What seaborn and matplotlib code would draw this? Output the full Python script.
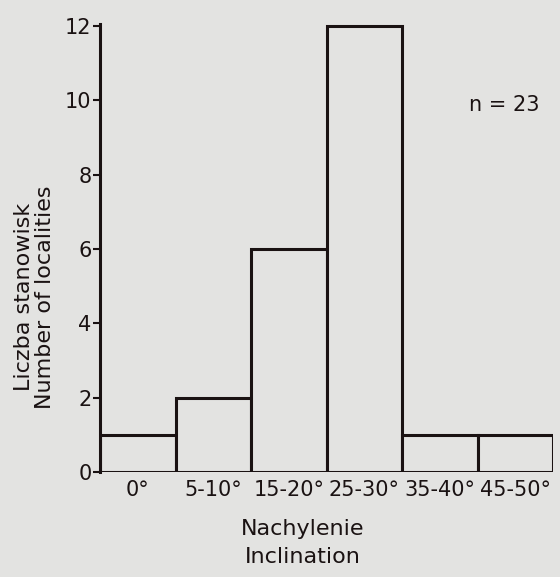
import matplotlib
matplotlib.use("Agg")
import matplotlib.pyplot as plt
import seaborn as sns
import pandas as pd

categories = ["0°", "5-10°", "15-20°", "25-30°", "35-40°", "45-50°"]
counts = [1, 2, 6, 12, 1, 1]
n_total = sum(counts)

BG = "#e3e3e1"
INK = "#1a1212"

sns.set_theme(style="white")
plt.rcParams['font.family'] = ['DejaVu Sans']

df = pd.DataFrame({"slope": categories, "count": counts})

fig = plt.figure(figsize=(5.6, 5.77), dpi=100, facecolor=BG)
ax = fig.add_axes([0.1786, 0.182, 0.809, 0.776])
ax.set_facecolor(BG)

sns.barplot(data=df, x="slope", y="count", color=BG, width=1.0,
            edgecolor=INK, linewidth=2.2, saturation=1, ax=ax)

ax.set_xlim(-0.5, 5.5)
ax.set_ylim(0, 12.05)
ax.set_yticks([0, 2, 4, 6, 8, 10, 12])
ax.tick_params(axis="y", left=True, direction="out", length=5, width=1.5,
               colors=INK, labelsize=15, pad=1)
ax.tick_params(axis="x", bottom=False, length=0, labelsize=15, pad=6, colors=INK)

for s in ["top", "right", "bottom"]:
    ax.spines[s].set_visible(False)
ax.spines["left"].set_linewidth(2.2)
ax.spines["left"].set_color(INK)

ax.set_xlabel("Nachylenie\nInclination", fontsize=16, color=INK, linespacing=1.5)
ax.xaxis.set_label_coords(0.448, -0.105)
ax.set_ylabel("Liczba stanowisk\nNumber of localities", fontsize=16,
              color=INK, linespacing=1.05)
ax.yaxis.set_label_coords(-0.1, 0.39)

ax.text(0.892, 0.82, f"n = {n_total}", transform=ax.transAxes, fontsize=15,
        ha="center", va="center", color=INK)

fig.savefig("out.png", dpi=100, facecolor=BG)
